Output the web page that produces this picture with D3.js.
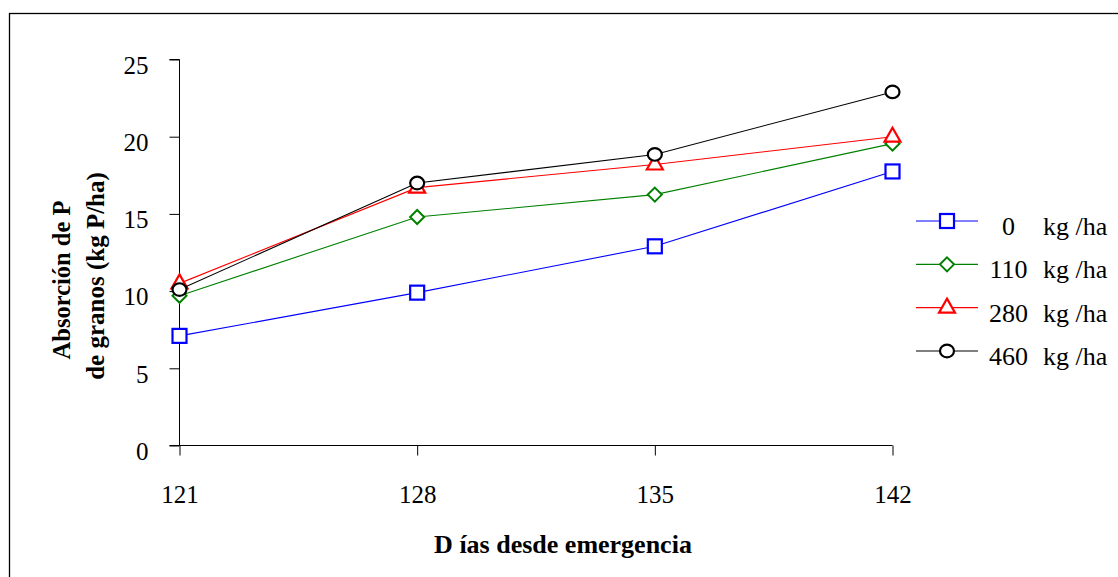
<!DOCTYPE html>
<html>
<head>
<meta charset="utf-8">
<script src="https://cdn.jsdelivr.net/npm/d3@7"></script>
<style>
  html, body { margin: 0; padding: 0; background: #fff; }
  svg { display: block; font-family: "Liberation Serif", "Times New Roman", serif; }
</style>
</head>
<body>
<svg id="chart" width="1118" height="577"></svg>
<script>
// ---- data ----
const days = [121, 128, 135, 142];
const seriesNames = ["0", "110", "280", "460"];
const unitLabel = "kg /ha";
const vals0   = [7.1, 9.9, 12.9, 17.75];
const vals110 = [9.7, 14.8, 16.25, 19.55];
const vals280 = [10.5, 16.7, 18.2, 20.0];
const vals460 = [10.1, 17.0, 18.85, 22.9];
const yTicks = [0, 5, 10, 15, 20, 25];
const yTitle1 = "Absorción de P";
const yTitle2 = "de granos (kg P/ha)";
const xTitle = "D ías desde emergencia";

const series = [
  { name: seriesNames[0], values: vals0,   color: "#0000ff", shape: "square" },
  { name: seriesNames[1], values: vals110, color: "#008000", shape: "diamond" },
  { name: seriesNames[2], values: vals280, color: "#ff0000", shape: "triangle" },
  { name: seriesNames[3], values: vals460, color: "#000000", shape: "circle" }
];

const FONT = "Liberation Serif, Times New Roman, serif";
const svg = d3.select("#chart");

// outer frame
svg.append("rect").attr("x", 9.5).attr("y", 13.5).attr("width", 1120).attr("height", 600)
  .attr("fill", "none").attr("stroke", "#000").attr("stroke-width", 1.3);

const x = d3.scalePoint().domain(days).range([179.5, 892.5]);
const y = d3.scaleLinear().domain([0, 25]).range([445.5, 59.5]);

// y axis
const yAxis = d3.axisLeft(y).tickValues(yTicks).tickSize(10).tickPadding(21);
const gy = svg.append("g").attr("transform", "translate(179.5,0)").call(yAxis);
gy.select(".domain").attr("d", `M-10,${y(25)}H0V${y(0)}`).attr("stroke", "#000");
gy.selectAll("text").attr("font-size", 25).attr("fill", "#000").attr("dy", "0.55em")
  .attr("font-family", FONT);

// x axis
const xAxis = d3.axisBottom(x).tickSize(10).tickPadding(30);
const gx = svg.append("g").attr("transform", "translate(0,445.5)").call(xAxis);
gx.select(".domain").attr("d", `M169.5,0H${x(142)}`).attr("stroke", "#000");
gx.selectAll("text").attr("font-size", 25).attr("fill", "#000")
  .attr("font-family", FONT);

// axis titles
svg.append("text").attr("transform", "translate(70,280) rotate(-90)")
  .attr("text-anchor", "middle").attr("font-weight", "bold").attr("font-size", 24.5)
  .text(yTitle1);
svg.append("text").attr("transform", "translate(104,276) rotate(-90)")
  .attr("text-anchor", "middle").attr("font-weight", "bold").attr("font-size", 25)
  .text(yTitle2);
svg.append("text").attr("x", 563).attr("y", 553)
  .attr("text-anchor", "middle").attr("font-weight", "bold").attr("font-size", 26)
  .text(xTitle);

function drawMarker(g, shape, cx, cy, color) {
  if (shape === "square") {
    g.append("rect").attr("x", cx - 7).attr("y", cy - 7).attr("width", 14).attr("height", 14)
      .attr("fill", "#fff").attr("stroke", color).attr("stroke-width", 2.2);
  } else if (shape === "diamond") {
    g.append("path").attr("d", `M${cx},${cy-7}L${cx+7},${cy}L${cx},${cy+7}L${cx-7},${cy}Z`)
      .attr("fill", "#fff").attr("stroke", color).attr("stroke-width", 2);
  } else if (shape === "triangle") {
    g.append("path").attr("d", `M${cx},${cy-9}L${cx+8},${cy+5}L${cx-8},${cy+5}Z`)
      .attr("fill", "#fff").attr("stroke", color).attr("stroke-width", 2.2);
  } else {
    g.append("ellipse").attr("cx", cx).attr("cy", cy).attr("rx", 7).attr("ry", 6.3)
      .attr("fill", "#fff").attr("stroke", color).attr("stroke-width", 2.2);
  }
}

const line = d3.line().x((d, i) => x(days[i])).y(d => y(d));
series.forEach(s => {
  const g = svg.append("g");
  g.append("path").datum(s.values).attr("d", line)
    .attr("fill", "none").attr("stroke", s.color).attr("stroke-width", 1.1);
  s.values.forEach((v, i) => drawMarker(g, s.shape, x(days[i]), y(v), s.color));
});

// legend
const legY = d3.scalePoint().domain(seriesNames).range([221, 351]);
series.forEach(s => {
  const g = svg.append("g");
  const ly = legY(s.name);
  g.append("line").attr("x1", 916).attr("x2", 978).attr("y1", ly).attr("y2", ly)
    .attr("stroke", s.color).attr("stroke-width", 1.1);
  drawMarker(g, s.shape, 947, ly, s.color);
  g.append("text").attr("x", 1008.5).attr("y", ly + 14).attr("text-anchor", "middle")
    .attr("font-size", 26).text(s.name);
  g.append("text").attr("x", 1043).attr("y", ly + 14).attr("font-size", 26).text(unitLabel);
});
</script>
</body>
</html>
